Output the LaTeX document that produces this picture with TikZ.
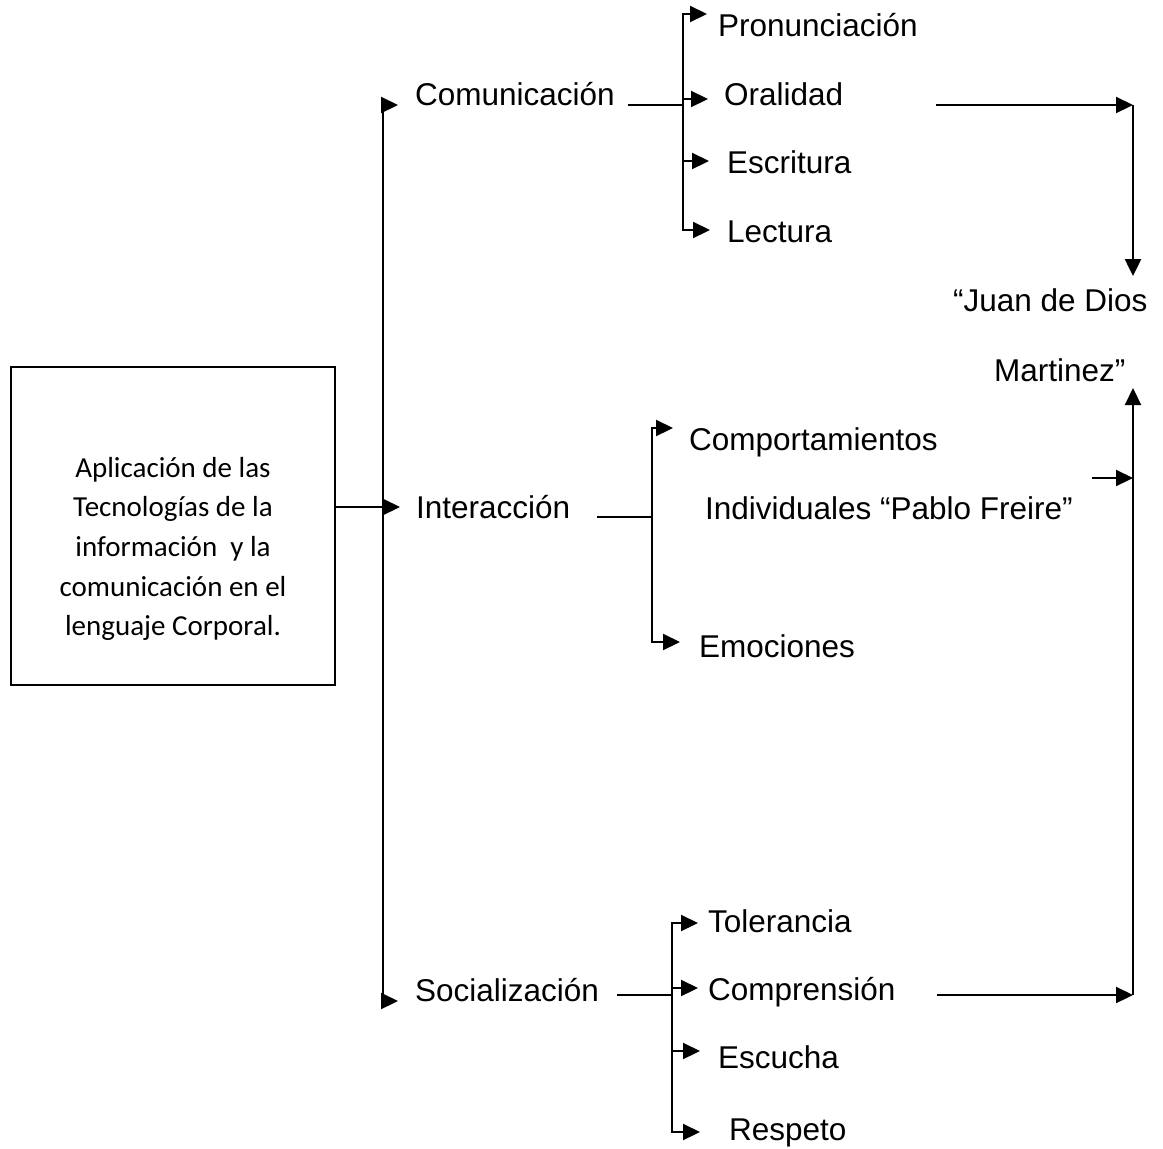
\documentclass[tikz,border=0pt]{standalone}
\usepackage{fontspec}
\setmainfont{Liberation Sans}
\newfontfamily\boxfont{Carlito}
\usetikzlibrary{arrows.meta,calc}

\tikzset{
    lbl/.style={font=\fontsize{31.5}{38}\selectfont, inner sep=0pt, anchor=base west},
    arr/.style={-{Triangle[length=17pt,width=16pt]}},
    mainbox/.style={draw, minimum width=324pt, minimum height=318pt, inner sep=0pt},
    boxtext/.style={font=\boxfont\fontsize{29}{39.7}\selectfont, align=center, inner sep=0pt}
}

\begin{document}
\begin{tikzpicture}[x=1pt, y=-1pt, line width=2.2pt]
    \useasboundingbox (0,0) rectangle (1163,1149);

    % Draw the box for the main topic
    \node[mainbox] (app) at (173,526) {};
    \node[boxtext] (apptxt) at (173,549) {Aplicación de las\\Tecnologías de la\\información \ y la\\comunicación en el\\lenguaje Corporal.};

    % First level labels
    \node[lbl] (com) at (414,105) {Comunicación};
    \node[lbl] (inter) at (415,518) {Interacción};
    \node[lbl] (soc) at (414,1001) {Socialización};

    % Second level labels
    \node[lbl] (pron) at (717,36) {Pronunciación};
    \node[lbl] (oral) at (723,105) {Oralidad};
    \node[lbl] (escr) at (726,173) {Escritura};
    \node[lbl] (lect) at (726,242) {Lectura};
    \node[lbl] (comp) at (688,450) {Comportamientos};
    \node[lbl] (indiv) at (704,519) {Individuales “Pablo Freire”};
    \node[lbl] (emoc) at (698,657) {Emociones};
    \node[lbl] (tol) at (707,932) {Tolerancia};
    \node[lbl] (compr) at (707,1000) {Comprensión};
    \node[lbl] (escu) at (717,1068) {Escucha};
    \node[lbl] (resp) at (728,1140) {Respeto};

    % Author labels
    \node[lbl] (juan) at (952,311) {“Juan de Dios};
    \node[lbl] (mart) at (993,381) {Martinez”};

    % Junctions
    \coordinate (iarr) at ([xshift=-15pt,yshift=11pt]inter.base west);
    \coordinate (j0) at ([xshift=-17pt]iarr);
    \coordinate (cj) at (683,105);
    \coordinate (oarr) at ([xshift=-15pt,yshift=6pt]oral.base west);
    \coordinate (ij) at (652,517);
    \coordinate (sj) at (672,995);
    \coordinate (rx) at (1133,0);

    % Draw the main tree
    \draw[arr] (app.east |- iarr) -- (iarr);
    \draw[arr] (j0) |- ([xshift=-16pt]com.base west);
    \draw[arr] (j0) |- ([xshift=-16pt]soc.base west);

    % Comunicacion branch
    \draw ([xshift=12pt]com.base east) -- (cj);
    \draw[arr] (cj) |- ([xshift=-10pt,yshift=22pt]pron.base west);
    \draw[arr] (cj |- oarr) -- (oarr);
    \draw[arr] (cj) |- ([xshift=-17pt,yshift=12pt]escr.base west);
    \draw[arr] (cj) |- ([xshift=-16pt,yshift=12pt]lect.base west);

    % Interaccion branch
    \draw ([xshift=26pt,yshift=1pt]inter.base east) -- (ij);
    \draw[arr] (ij) |- ([xshift=-15pt,yshift=22pt]comp.base west);
    \draw[arr] (ij) |- ([xshift=-18pt,yshift=15pt]emoc.base west);

    % Socializacion branch
    \draw ([xshift=17pt,yshift=6pt]soc.base east) -- (sj);
    \draw[arr] (sj) |- ([xshift=-9pt,yshift=9pt]tol.base west);
    \draw[arr] (sj) |- ([xshift=-9pt,yshift=12pt]compr.base west);
    \draw[arr] (sj) |- ([xshift=-17pt,yshift=17pt]escu.base west);
    \draw[arr] (sj) |- ([xshift=-28pt,yshift=8pt]resp.base west);

    % Arrows to the authors
    \draw[arr] ([xshift=92pt]oral.base east) -- (oral.base -| rx);
    \draw[arr] (oral.base -| rx) -- ([yshift=11pt]juan.north -| rx);
    \draw[arr] ([xshift=40pt,yshift=5pt]compr.base east) -- ([yshift=5pt]compr.base -| rx);
    \draw[arr] ([yshift=5pt]compr.base -| rx) -- ([yshift=-7pt]mart.base -| rx);
    \draw[arr] ([xshift=18pt,yshift=41pt]indiv.base east) -- ([yshift=41pt]indiv.base -| rx);
\end{tikzpicture}
\end{document}
